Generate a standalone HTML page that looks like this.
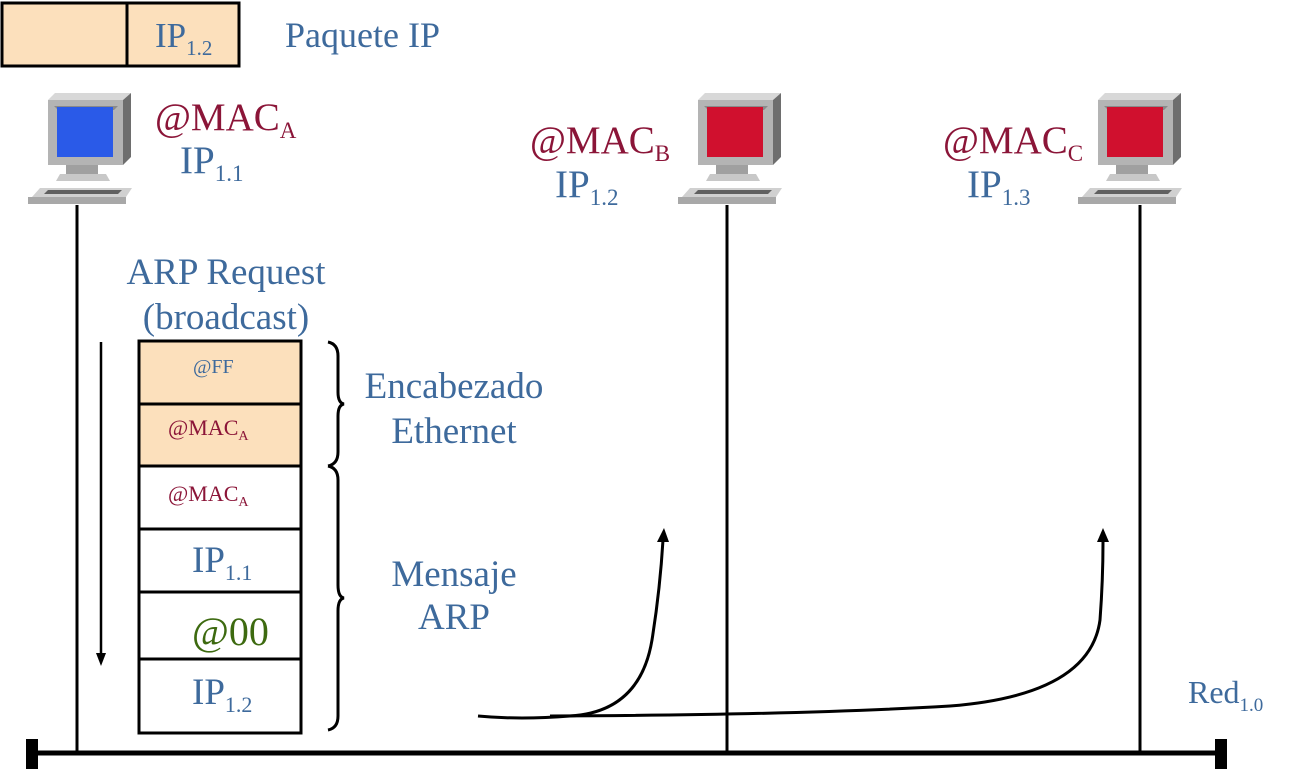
<!DOCTYPE html>
<html><head><meta charset="utf-8"><style>
body{margin:0;background:#fff}
svg{display:block}
text{font-family:"Liberation Serif",serif}
.b{fill:#3e6a9c}.r{fill:#8b1538}
</style></head><body>
<svg width="1300" height="769" viewBox="0 0 1300 769" xmlns="http://www.w3.org/2000/svg">
<defs>
<g id="pc">
<polygon points="20,7 27,0 103,0 95,7" fill="#d8d8d8"/>
<polygon points="95,7 103,0 103,64 95,72" fill="#6e6e6e"/>
<rect x="20" y="7" width="75" height="65" fill="#b4b4b4"/>
<polygon points="26,13 90,13 86,17 30,17" fill="#8a8a8a"/>
<rect x="38" y="72" width="32" height="9" fill="#a0a0a0"/>
<polygon points="32,81 78,81 82,88 28,88" fill="#c8c8c8"/>
<polygon points="12,95 104,95 98,104 4,104" fill="#d0d0d0"/>
<polygon points="20,97 94,97 90,101 16,101" fill="#606060"/>
<polygon points="0,104 98,104 98,111 0,111" fill="#a8a8a8"/>
</g>
</defs>
<rect x="2" y="3" width="237" height="63" fill="#fce0bc" stroke="#000" stroke-width="3"/>
<line x1="127" y1="3" x2="127" y2="66" stroke="#000" stroke-width="3"/>
<text x="155" y="47" font-size="35" class="b">IP<tspan font-size="21" dy="8">1.2</tspan></text>
<text x="285" y="47" font-size="36" class="b">Paquete IP</text>
<use href="#pc" x="28" y="93"/>
<rect x="57" y="107" width="56" height="50" fill="#2a5ae8"/>
<use href="#pc" x="678" y="93"/>
<rect x="707" y="107" width="56" height="50" fill="#d0102e"/>
<use href="#pc" x="1078" y="93"/>
<rect x="1107" y="107" width="56" height="50" fill="#d0102e"/>
<text x="155" y="130" font-size="39" class="r">@MAC<tspan font-size="23" dy="8">A</tspan></text>
<text x="180" y="173" font-size="39" class="b">IP<tspan font-size="23" dy="8">1.1</tspan></text>
<text x="530" y="153" font-size="39" class="r">@MAC<tspan font-size="23" dy="8">B</tspan></text>
<text x="555" y="197" font-size="39" class="b">IP<tspan font-size="23" dy="8">1.2</tspan></text>
<text x="943" y="153" font-size="39" class="r">@MAC<tspan font-size="23" dy="8">C</tspan></text>
<text x="967" y="197" font-size="39" class="b">IP<tspan font-size="23" dy="8">1.3</tspan></text>
<line x1="77" y1="205" x2="77" y2="752" stroke="#000" stroke-width="3"/>
<line x1="727" y1="205" x2="727" y2="752" stroke="#000" stroke-width="3"/>
<line x1="1140" y1="205" x2="1140" y2="752" stroke="#000" stroke-width="3"/>
<line x1="30" y1="753" x2="1225" y2="753" stroke="#000" stroke-width="5"/>
<rect x="26" y="739" width="12" height="30" fill="#000"/>
<rect x="1215" y="739" width="12" height="30" fill="#000"/>
<text x="1188" y="703" font-size="32" class="b">Red<tspan font-size="19" dy="8">1.0</tspan></text>
<text x="226" y="284" font-size="37" class="b" text-anchor="middle">ARP Request</text>
<text x="226" y="329" font-size="37" class="b" text-anchor="middle">(broadcast)</text>
<line x1="101" y1="342" x2="101" y2="655" stroke="#000" stroke-width="2.5"/>
<polygon points="96,653 106,653 101,666" fill="#000"/>
<g stroke="#000" stroke-width="3">
<rect x="139" y="341" width="162" height="63" fill="#fce0bc"/>
<rect x="139" y="404" width="162" height="62" fill="#fce0bc"/>
<rect x="139" y="466" width="162" height="63" fill="#fff"/>
<rect x="139" y="529" width="162" height="63" fill="#fff"/>
<rect x="139" y="592" width="162" height="67" fill="#fff"/>
<rect x="139" y="659" width="162" height="74" fill="#fff"/>
</g>
<text x="193" y="373" font-size="20" class="b">@FF</text>
<text x="168" y="435" font-size="22" class="r">@MAC<tspan font-size="14" dy="5">A</tspan></text>
<text x="168" y="501" font-size="22" class="r">@MAC<tspan font-size="14" dy="5">A</tspan></text>
<text x="192" y="572" font-size="37" class="b">IP<tspan font-size="22" dy="8">1.1</tspan></text>
<text x="192" y="645" font-size="40" fill="#3d6a10">@00</text>
<text x="192" y="704" font-size="37" class="b">IP<tspan font-size="22" dy="8">1.2</tspan></text>
<path d="M328,342 Q338,344 338,356 L338,392 Q338,403 344,404 Q338,405 338,416 L338,452 Q338,464 328,466" fill="none" stroke="#000" stroke-width="3"/>
<path d="M328,466 Q338,468 338,480 L338,585 Q338,597 344,598 Q338,599 338,611 L338,716 Q338,728 328,730" fill="none" stroke="#000" stroke-width="3"/>
<text x="454" y="398" font-size="37" class="b" text-anchor="middle">Encabezado</text>
<text x="454" y="443" font-size="37" class="b" text-anchor="middle">Ethernet</text>
<text x="454" y="586" font-size="37" class="b" text-anchor="middle">Mensaje</text>
<text x="454" y="629" font-size="37" class="b" text-anchor="middle">ARP</text>
<path d="M478,716 Q520,720 570,716 Q640,712 652,640 Q660,590 663,540" fill="none" stroke="#000" stroke-width="3"/>
<polygon points="657,542 669,542 664,528" fill="#000"/>
<path d="M550,716 Q800,715 950,706 Q1090,695 1100,620 Q1103,580 1103,542" fill="none" stroke="#000" stroke-width="3"/>
<polygon points="1097,542 1109,542 1103,528" fill="#000"/>
</svg>
</body></html>
